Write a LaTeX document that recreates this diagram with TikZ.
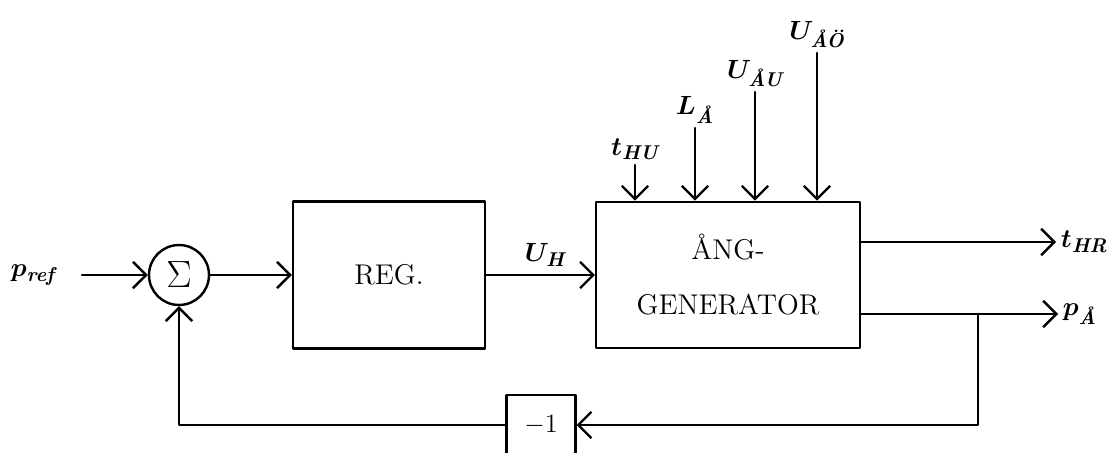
\documentclass[tikz,border=0pt]{standalone}
\usepackage{amsmath}
\usepackage{bm}
\usepackage{fontspec}
\usetikzlibrary{arrows.meta}
\newcommand{\siglbl}[2]{$\bm{#1}_{\text{\bfseries\itshape #2}}$}

\begin{document}
\begin{tikzpicture}[x=0.016cm,y=-0.016cm,line cap=round,line join=round,
  font=\fontsize{13}{15}\selectfont,
  block/.style={draw,line width=1.1pt,inner sep=0pt},
  sumnode/.style={draw,circle,line width=1.1pt,minimum size=0.96cm,inner sep=0pt,font=\fontsize{19}{19}\selectfont},
  lbl/.style={inner sep=2pt},
  sig/.style={line width=1.1pt,-{Straight Barb[length=6pt,width=12pt,line width=1.1pt]}}]
\useasboundingbox (0,0) rectangle (1117,452);
% blocks
\node[sumnode] (sum) at (179,275) {$\Sigma$};
\node[block,minimum width=3.07cm,minimum height=2.35cm] (reg) at (389,275) {REG.};
\node[block,minimum width=4.22cm,minimum height=2.34cm,align=center] (gen) at (728,275) {\AA NG-\\[10pt]GENERATOR};
\node[block,minimum width=1.1cm,minimum height=0.96cm] (neg) at (541,425) {$-1$};
% signal names
\node[lbl] (pref) at (33,275) {\siglbl{p}{ref}};
\coordinate (in) at (82,275);
\node[lbl] (uh) at (545,255) {\siglbl{U}{H}};
\node[lbl,anchor=south] (thu) at (635,165) {\siglbl{t}{HU}};
\node[lbl,anchor=south] (la) at (695,128) {\siglbl{L}{\AA}};
\node[lbl,anchor=south] (uau) at (755,92) {\siglbl{U}{\AA U}};
\node[lbl,anchor=south] (uao) at (817,53) {\siglbl{U}{\AA\"O}};
\node[lbl,anchor=west] (thr) at (1056,242) {\siglbl{t}{HR}};
\node[lbl,anchor=west] (pa) at (1058,314) {\siglbl{p}{\AA}};
\coordinate (br) at (978,314);
% connections
\draw[sig] (in) -- (sum);
\draw[sig] (sum) -- (reg);
\draw[sig] (reg) -- (gen);
\foreach \s in {thu,la,uau,uao}
  \draw[sig] (\s) -- (\s |- gen.north);
\draw[sig] (gen.east |- thr) -- (thr);
\draw[sig] (gen.east |- pa) -- (pa);
\draw[sig] (br) |- (neg);
\draw[sig] (neg) -| (sum);
\end{tikzpicture}
\end{document}
